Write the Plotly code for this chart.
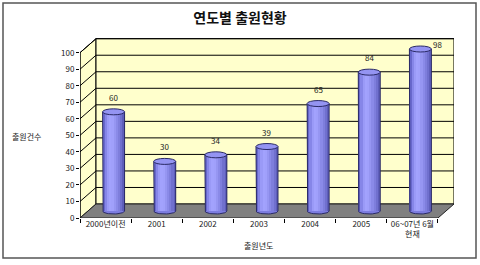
import math
import plotly.graph_objects as go

# ---- data ----
categories = ["2000년이전", "2001", "2002", "2003", "2004", "2005", "06~07년 6월<br>현재"]
values = [60, 30, 34, 39, 65, 84, 98]
y_ticks = [0, 10, 20, 30, 40, 50, 60, 70, 80, 90, 100]
title_text = "연도별 출원현황"
y_title = "출원건수"
x_title = "출원년도"

# ---- geometry (pseudo-3D depth) ----
W, H = 480, 265
ML, MR, MT, MB = 80, 26, 38, 47
plot_w = W - ML - MR
plot_h = H - MT - MB
px_per_cat = 51.14
px_per_unit = 1.653
x_lo = -0.5
x_hi = x_lo + plot_w / px_per_cat
y_hi = plot_h / px_per_unit
dx = 16 / px_per_cat
dy = 14 / px_per_unit
x0, x1 = -0.5, len(categories) - 0.5
ymax = 100
bar_w = 22 / px_per_cat
ry = 3 / px_per_unit
base = dy / 2

fig = go.Figure()

shapes = []
# left wall
shapes.append(dict(type="path", layer="below",
                   path=f"M {x0},0 L {x0},{ymax} L {x0+dx},{ymax+dy} L {x0+dx},{dy} Z",
                   fillcolor="#FFFFCC", line=dict(color="black", width=1)))
# back wall
shapes.append(dict(type="rect", layer="below", x0=x0+dx, x1=x1+dx, y0=dy, y1=ymax+dy,
                   fillcolor="#FFFFCC", line=dict(color="black", width=1)))
# floor
shapes.append(dict(type="path", layer="below",
                   path=f"M {x0},0 L {x1},0 L {x1+dx},{dy} L {x0+dx},{dy} Z",
                   fillcolor="#808080", line=dict(color="#222222", width=1)))
# gridlines
for v in y_ticks[1:]:
    shapes.append(dict(type="path", layer="below",
                       path=f"M {x0},{v} L {x0+dx},{v+dy} L {x1+dx},{v+dy}",
                       line=dict(color="black", width=1)))
# front vertical axis line
shapes.append(dict(type="line", layer="below", x0=x0, x1=x0, y0=0, y1=ymax,
                   line=dict(color="black", width=1)))

# bottom ellipses (under bars)
xc = [i + dx / 2 for i in range(len(categories))]
for i, v in enumerate(values):
    shapes.append(dict(type="circle", layer="below",
                       x0=xc[i]-bar_w/2, x1=xc[i]+bar_w/2, y0=base-ry, y1=base+ry,
                       fillcolor="#7C7CE0", line=dict(width=0)))

# cylinder bodies as shaded strips
strip_colors = ["#6868CC", "#8686E8", "#9A9AF7", "#A2A2FD", "#A0A0FB",
                "#9696F2", "#8A8AE8", "#7E7EDC", "#7070CE", "#5E5EBA"]
N = len(strip_colors)
sw = bar_w / N
for k, c in enumerate(strip_colors):
    fig.add_trace(go.Bar(
        x=xc, y=values, base=base,
        width=sw * (1.35 if k < N - 1 else 1.0),
        offset=-bar_w / 2 + k * sw,
        marker=dict(color=c, line=dict(width=0)),
        hoverinfo="skip", showlegend=False))

# outlines: left edge, bottom arc, right edge
ox, oy = [], []
for i, v in enumerate(values):
    top = v + base
    xl, xr = xc[i] - bar_w / 2, xc[i] + bar_w / 2
    ox += [xl, xl]
    oy += [top, base]
    for s in range(1, 20):
        th = math.pi + math.pi * s / 20
        ox.append(xc[i] + bar_w / 2 * math.cos(th))
        oy.append(base + ry * math.sin(th))
    ox += [xr, xr, None]
    oy += [base, top, None]
fig.add_trace(go.Scatter(x=ox, y=oy, mode="lines", line=dict(color="#2A2A66", width=1),
                         hoverinfo="skip", showlegend=False))

# top ellipses
for i, v in enumerate(values):
    top = v + base
    shapes.append(dict(type="circle", layer="above",
                       x0=xc[i]-bar_w/2, x1=xc[i]+bar_w/2, y0=top-ry, y1=top+ry,
                       fillcolor="#9494F2", line=dict(color="#2A2A66", width=1)))

# outer frame
shapes.append(dict(type="rect", xref="paper", yref="paper",
                   x0=(3-ML)/plot_w, x1=(476-ML)/plot_w,
                   y0=(MT+plot_h-258)/plot_h, y1=(MT+plot_h-3)/plot_h,
                   line=dict(color="#555555", width=1.5)))

annotations = []
for i, v in enumerate(values):
    last = i == len(values) - 1
    annotations.append(dict(x=xc[i], y=v + base, text=str(v), showarrow=False,
                            xanchor="center", yanchor="bottom",
                            xshift=17 if last else 0, yshift=-3 if last else 7,
                            font=dict(size=8, color="#222222", family="Noto Sans CJK KR")))
annotations.append(dict(xref="paper", yref="paper", x=(26-ML)/plot_w,
                        y=(MT+plot_h-136)/plot_h, text=y_title, showarrow=False,
                        xanchor="center", yanchor="middle",
                        font=dict(size=8, color="#222222", family="Noto Sans CJK KR")))
annotations.append(dict(xref="paper", yref="paper", x=(258-ML)/plot_w,
                        y=(MT+plot_h-246)/plot_h, text=x_title, showarrow=False,
                        xanchor="center", yanchor="middle",
                        font=dict(size=8, color="#222222", family="Noto Sans CJK KR")))

fig.update_layout(
    width=W, height=H,
    margin=dict(l=ML, r=MR, t=MT, b=MB),
    paper_bgcolor="white", plot_bgcolor="white",
    barmode="overlay", bargap=0,
    title=dict(text="<b>" + title_text + "</b>", x=0.5, xref="container", xanchor="center",
               y=1 - 18 / H, yref="container", yanchor="middle",
               font=dict(size=14, color="#111111", family="Noto Sans CJK KR")),
    shapes=shapes, annotations=annotations,
    xaxis=dict(range=[x_lo, x_hi], tickvals=list(range(len(categories))), ticktext=categories,
               showgrid=False, zeroline=False, showline=False, ticks="",
               minor=dict(ticks="outside", tick0=0.5, dtick=1, ticklen=4, tickcolor="black",
                          showgrid=False),
               tickfont=dict(size=8, color="#222222", family="Noto Sans CJK KR"),
               fixedrange=True),
    yaxis=dict(range=[0, y_hi], tickvals=y_ticks, showgrid=False, zeroline=False,
               showline=False, ticks="outside", ticklen=3, tickcolor="black",
               tickfont=dict(size=8, color="#222222", family="Noto Sans CJK KR"),
               fixedrange=True),
)

fig.write_html("out.html")
